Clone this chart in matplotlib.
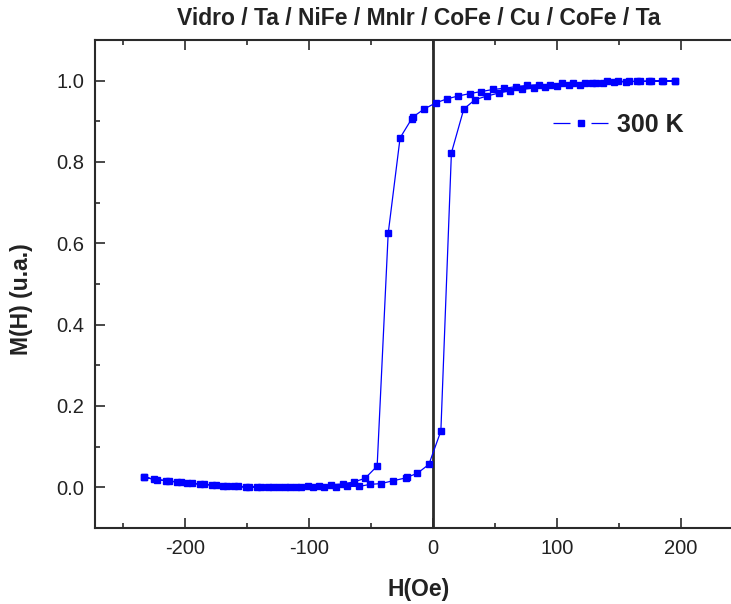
import matplotlib.pyplot as plt
from matplotlib.lines import Line2D
from matplotlib.legend_handler import HandlerTuple
from matplotlib.ticker import MultipleLocator

plt.rcParams["font.family"] = ["Liberation Sans", "DejaVu Sans"]
plt.rcParams["axes.unicode_minus"] = False

# descending field branch (upper, +H -> -H)
h_down = [195.2, 185.7, 176.4, 167.5, 158.3, 149.3, 140.3, 131.5, 122.8, 113.1,
          104.3, 94.9, 85.7, 76.0, 67.2, 57.5, 48.6, 39.2, 30.0, 20.5,
          11.5, 2.4, -7.0, -16.2, -17.0, -26.4, -36.0, -44.9, -54.6, -63.5,
          -72.8, -82.0, -91.6, -101.0, -110.0, -119.5, -129.0, -138.5, -148.0, -157.0,
          -166.0, -175.0, -184.5, -194.0, -203.5, -213.0, -222.5, -232.8]
m_down = [0.999, 0.999, 0.999, 0.998, 0.998, 0.998, 0.998, 0.995, 0.995, 0.993,
          0.993, 0.990, 0.990, 0.988, 0.985, 0.981, 0.978, 0.973, 0.968, 0.962,
          0.955, 0.945, 0.930, 0.910, 0.906, 0.859, 0.624, 0.052, 0.022, 0.013,
          0.008, 0.006, 0.002, 0.002, 0.001, 0.000, 0.000, 0.000, 0.001, 0.002,
          0.004, 0.006, 0.007, 0.010, 0.012, 0.016, 0.018, 0.025]

# ascending field branch (lower, -H -> +H)
h_up = [-232.8, -224.8, -215.0, -206.0, -198.0, -187.6, -178.0, -169.6, -160.0, -151.0,
        -142.0, -133.0, -124.0, -115.0, -106.0, -96.5, -87.7, -78.2, -69.1, -59.4,
        -50.6, -41.7, -32.0, -21.5, -20.5, -12.6, -3.2, 6.5, 15.0, 25.0,
        34.1, 43.8, 53.0, 62.1, 71.8, 81.7, 90.6, 100.2, 109.7, 118.8,
        128.5, 137.5, 146.5, 155.5, 165.0, 174.5, 185.0, 195.2]
m_up = [0.025, 0.019, 0.016, 0.012, 0.011, 0.007, 0.005, 0.004, 0.002, 0.000,
        0.000, 0.000, 0.000, 0.000, 0.000, 0.000, 0.000, 0.000, 0.002, 0.002,
        0.007, 0.009, 0.016, 0.023, 0.025, 0.034, 0.056, 0.138, 0.822, 0.930,
        0.953, 0.962, 0.969, 0.975, 0.978, 0.982, 0.985, 0.987, 0.990, 0.990,
        0.993, 0.995, 0.996, 0.997, 0.998, 0.998, 0.999, 0.999]

h = h_down + h_up
m = m_down + m_up

ink = "#222222"
blue = "#0000ff"

fig = plt.figure(figsize=(7.31, 6.04), dpi=100)
# right edge of the frame runs past the image edge, as in the original
ax = fig.add_axes([0.130, 0.126, 0.886, 0.808])

ax.axvline(0, color="#2a2a2a", lw=2.0, zorder=1)
ax.plot(h, m, color=blue, lw=0.9, marker="s", ms=4, mec=blue, zorder=3)

ax.set_xlim(-272.5, 250)
ax.set_ylim(-0.1, 1.1)
ax.xaxis.set_major_locator(MultipleLocator(100))
ax.xaxis.set_minor_locator(MultipleLocator(50))
ax.yaxis.set_minor_locator(MultipleLocator(0.1))
ax.set_yticks([0.0, 0.2, 0.4, 0.6, 0.8, 1.0])
ax.set_yticklabels(["0.0", "0.2", "0.4", "0.6", "0.8", "1.0"])
ax.tick_params(which="both", direction="in", top=True, right=True,
               color="#2a2a2a", width=1.2, labelsize=14.5, labelcolor=ink, pad=8)
ax.tick_params(which="major", length=7)
ax.tick_params(which="minor", length=3.5)
for s in ax.spines.values():
    s.set_color("#2a2a2a")
    s.set_linewidth(1.5)

ax.set_xlabel("H(Oe)", fontsize=16.5, fontweight="bold", color=ink)
ax.xaxis.set_label_coords(0.5, -0.102)
ax.set_ylabel("M(H) (u.a.)", fontsize=16.5, fontweight="bold", color=ink)
ax.yaxis.set_label_coords(-0.0957, 0.469)
ax.set_title("Vidro / Ta / NiFe / MnIr / CoFe / Cu / CoFe / Ta", fontsize=16.5,
             fontweight="bold", color=ink, pad=11)

# legend handle: broken line with the marker in the gap
seg = Line2D([], [], color=blue, lw=0.9, linestyle=(0, (13.6, 16.8)))
mk = Line2D([], [], color=blue, marker="s", ms=4, linestyle="none")
leg = ax.legend([(seg, mk)], ["300 K"], handler_map={tuple: HandlerTuple(ndivide=1)},
                loc="center left", bbox_to_anchor=(0.707, 0.826), frameon=False,
                borderpad=0, borderaxespad=0, handlelength=2.28, handletextpad=0.3,
                prop={"size": 18, "weight": "bold"})
for t in leg.get_texts():
    t.set_color(ink)

fig.savefig("out.png", dpi=100)
